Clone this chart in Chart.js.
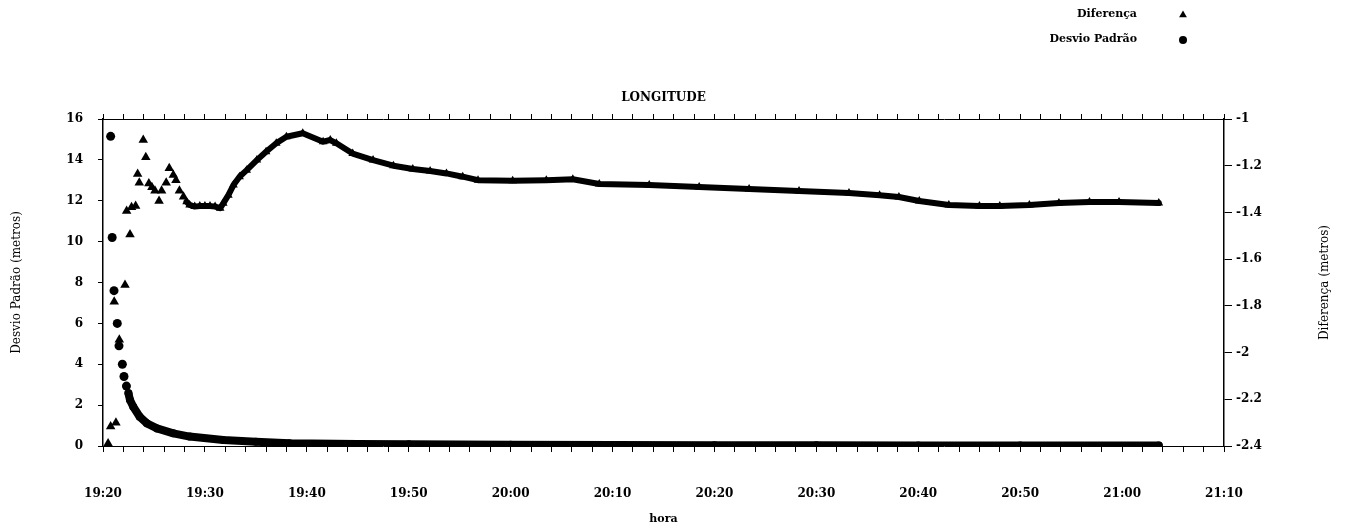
<!DOCTYPE html>
<html>
<head>
<meta charset="utf-8">
<script src="https://cdn.jsdelivr.net/npm/chart.js@4/dist/chart.umd.min.js"></script>
<style>
  body { margin: 0; background: #fff; }
</style>
</head>
<body>
<canvas id="chart-longitude" width="1355" height="530"></canvas>
<script>
// minutes after 19:20
const horaLabels = ['19:20', '19:30', '19:40', '19:50', '20:00', '20:10', '20:20', '20:30', '20:40', '20:50', '21:00', '21:10'];

// Diferença (metros), right axis - first scattered points
const difSparseMin = [0.5, 0.75, 1.1, 1.27, 1.6, 2.16, 2.32, 2.65, 2.8, 3.2, 3.4, 3.56, 3.95, 4.2, 4.5, 4.8, 5.1, 5.5, 5.75, 6.2, 6.5, 6.9, 7.16, 7.5, 7.9];
const difSparse = [-2.389, -2.317, -1.782, -2.3, -1.945, -1.711, -1.394, -1.494, -1.378, -1.373, -1.236, -1.273, -1.09, -1.164, -1.276, -1.292, -1.307, -1.351, -1.307, -1.273, -1.211, -1.24, -1.262, -1.307, -1.333];

// Diferença - dense part (points overlap into a band)
const difDenseMin = [8.2, 8.5, 9, 9.5, 10, 10.5, 11, 11.5, 11.8, 12.3, 12.8, 13.4, 14.1, 15.1, 16, 17, 18, 19.6, 21.6, 22.3, 22.9, 24.5, 26.5, 28.5, 30.4, 32.1, 33.7, 35.3, 36.8, 40.2, 43.5, 46.1, 48.7, 53.6, 58.5, 63.4, 68.3, 73.2, 76.2, 78.1, 80.1, 83, 86, 88, 90.9, 93.8, 96.8, 99.7, 103.6];
const difDense = [-1.354, -1.368, -1.375, -1.373, -1.373, -1.373, -1.375, -1.382, -1.361, -1.326, -1.283, -1.247, -1.219, -1.176, -1.14, -1.104, -1.076, -1.061, -1.097, -1.09, -1.104, -1.148, -1.176, -1.2, -1.214, -1.223, -1.233, -1.247, -1.262, -1.264, -1.262, -1.258, -1.278, -1.283, -1.291, -1.3, -1.308, -1.317, -1.326, -1.334, -1.351, -1.368, -1.373, -1.373, -1.368, -1.36, -1.355, -1.355, -1.36];

// Desvio Padrão (metros), left axis
const dpSparseMin = [0.75, 0.9, 1.08, 1.4, 1.57, 1.9, 2.06, 2.3];
const dpSparse = [15.15, 10.2, 7.6, 6.0, 4.9, 4.0, 3.4, 2.93];
const dpDenseMin = [2.5, 2.65, 2.97, 3.6, 4.3, 5.3, 6.9, 8.5, 11.8, 15, 18.3, 25, 30, 40, 50, 60, 70, 80, 90, 103.6];
const dpDense = [2.58, 2.25, 1.92, 1.43, 1.11, 0.86, 0.62, 0.46, 0.29, 0.21, 0.13, 0.1, 0.08, 0.06, 0.05, 0.04, 0.04, 0.03, 0.03, 0.02];

const toPoints = (xs, ys) => xs.map((x, i) => ({ x: x, y: ys[i] }));

const serif = 'DejaVu Serif';
const boldFont = { family: serif, size: 12, weight: 'bold' };

// title, axis titles and legend drawn by hand (legend has text before marker)
const textPlugin = {
  id: 'textPlugin',
  afterDraw(chart) {
    const ctx = chart.ctx;
    const area = chart.chartArea;
    const midY = (area.top + area.bottom) / 2;
    ctx.save();
    ctx.fillStyle = '#000';
    ctx.textBaseline = 'middle';

    ctx.font = `bold 12px "${serif}"`;
    ctx.textAlign = 'center';
    ctx.fillText('LONGITUDE', (area.left + area.right) / 2, 98);

    ctx.font = `bold 11px "${serif}"`;
    ctx.fillText('hora', (area.left + area.right) / 2, 519);

    ctx.font = `12px "${serif}"`;
    ctx.save();
    ctx.translate(17, midY);
    ctx.rotate(-Math.PI / 2);
    ctx.fillText('Desvio Padrão (metros)', 0, 0);
    ctx.restore();
    ctx.save();
    ctx.translate(1325, midY);
    ctx.rotate(-Math.PI / 2);
    ctx.fillText('Diferença (metros)', 0, 0);
    ctx.restore();

    ctx.font = `bold 11px "${serif}"`;
    ctx.textAlign = 'right';
    ctx.fillText('Diferença', 1137, 14);
    ctx.fillText('Desvio Padrão', 1137, 39);
    Chart.helpers.drawPoint(ctx, { pointStyle: 'triangle', radius: 4.5, rotation: 0, borderWidth: 0 }, 1183, 15);
    Chart.helpers.drawPoint(ctx, { pointStyle: 'circle', radius: 4, rotation: 0, borderWidth: 0 }, 1183, 40);
    ctx.restore();
  },
};

const ctx = document.getElementById('chart-longitude').getContext('2d');

new Chart(ctx, {
  type: 'scatter',
  data: {
    datasets: [
      {
        label: 'Diferença',
        data: toPoints(difSparseMin, difSparse),
        yAxisID: 'y2',
        pointStyle: 'triangle',
        pointRadius: 5.5,
        backgroundColor: '#000',
        borderColor: '#000',
        borderWidth: 0,
      },
      {
        label: 'Diferença',
        data: toPoints(difDenseMin, difDense),
        yAxisID: 'y2',
        showLine: true,
        pointStyle: 'triangle',
        pointRadius: 5,
        pointBorderWidth: 0,
        backgroundColor: '#000',
        borderColor: '#000',
        borderWidth: 6,
        borderJoinStyle: 'round',
        borderCapStyle: 'round',
      },
      {
        label: 'Desvio Padrão',
        data: toPoints(dpSparseMin, dpSparse),
        yAxisID: 'y',
        pointStyle: 'circle',
        pointRadius: 4.5,
        backgroundColor: '#000',
        borderColor: '#000',
        borderWidth: 0,
      },
      {
        label: 'Desvio Padrão',
        data: toPoints(dpDenseMin, dpDense),
        yAxisID: 'y',
        showLine: true,
        pointStyle: 'circle',
        pointRadius: 4,
        pointBorderWidth: 0,
        backgroundColor: '#000',
        borderColor: '#000',
        borderWidth: 8,
        borderJoinStyle: 'round',
        borderCapStyle: 'round',
      },
    ],
  },
  options: {
    responsive: false,
    animation: false,
    layout: { padding: 0 },
    plugins: {
      legend: { display: false },
      tooltip: { enabled: false },
    },
    scales: {
      x: {
        type: 'linear',
        position: 'bottom',
        min: 0,
        max: 110,
        afterFit: (s) => { s.height = 84; },
        ticks: {
          stepSize: 2,
          autoSkip: false,
          maxRotation: 0,
          padding: 35,
          color: '#000',
          font: boldFont,
          callback: (v) => (v % 10 === 0 ? horaLabels[v / 10] : ''),
        },
        grid: { drawOnChartArea: false, tickLength: 6, color: '#000' },
        border: { color: '#000', width: 1 },
      },
      x2: {
        type: 'linear',
        position: 'top',
        min: 0,
        max: 110,
        afterFit: (s) => { s.height = 119; },
        ticks: { stepSize: 2, autoSkip: false, display: false },
        grid: { drawOnChartArea: false, tickLength: 5, color: '#000' },
        border: { color: '#000', width: 1 },
      },
      y: {
        position: 'left',
        min: 0,
        max: 16,
        afterFit: (s) => { s.width = 103; },
        ticks: { stepSize: 2, padding: 15, color: '#000', font: boldFont },
        grid: { drawOnChartArea: false, tickLength: 5, color: '#000' },
        border: { color: '#000', width: 1.5 },
      },
      y2: {
        position: 'right',
        min: -2.4,
        max: -1,
        afterFit: (s) => { s.width = 131; },
        ticks: {
          stepSize: 0.2,
          padding: 4,
          color: '#000',
          font: boldFont,
          callback: (v) => String(Number(v.toFixed(1))),
        },
        grid: { drawOnChartArea: false, tickLength: 8, color: '#000' },
        border: { color: '#000', width: 1.5 },
      },
    },
  },
  plugins: [textPlugin],
});
</script>
</body>
</html>
